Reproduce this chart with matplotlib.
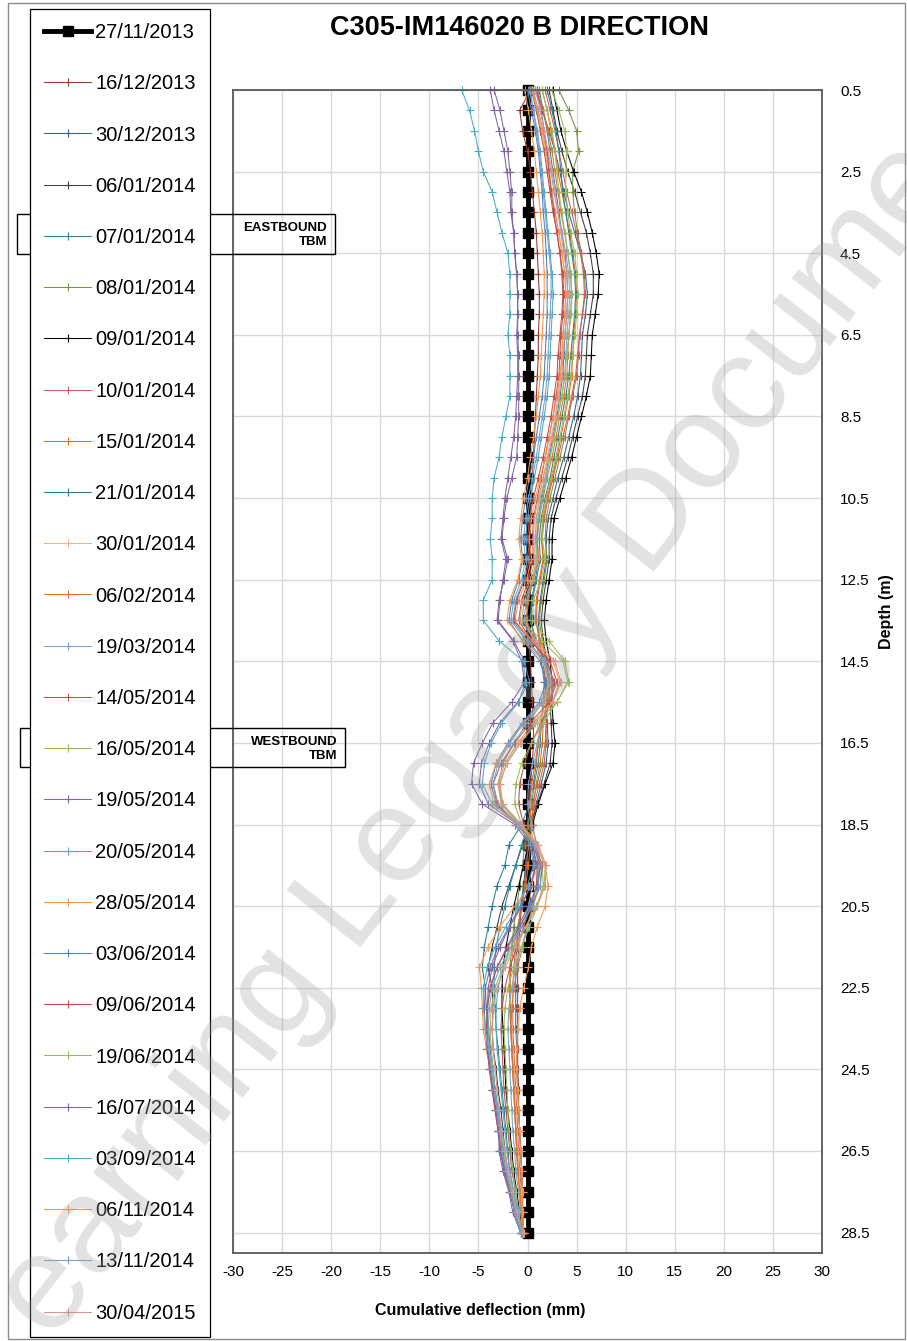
import matplotlib.pyplot as plt
import numpy as np
from matplotlib.patches import Rectangle

plt.rcParams['font.family'] = ['Liberation Sans', 'DejaVu Sans']
plt.rcParams['axes.unicode_minus'] = False

W, H = 907, 1341

# depth of each reading (m), every 0.5 m
depth = np.arange(0.5, 28.51, 0.5)

dates = ['27/11/2013', '16/12/2013', '30/12/2013', '06/01/2014', '07/01/2014',
         '08/01/2014', '09/01/2014', '10/01/2014', '15/01/2014', '21/01/2014',
         '30/01/2014', '06/02/2014', '19/03/2014', '14/05/2014', '16/05/2014',
         '19/05/2014', '20/05/2014', '28/05/2014', '03/06/2014', '09/06/2014',
         '19/06/2014', '16/07/2014', '03/09/2014', '06/11/2014', '13/11/2014',
         '30/04/2015']

colors = ['#000000', '#953735', '#376092', '#404040', '#31859C',
          '#77933C', '#000000', '#CD5C5C', '#E46C0A', '#2C7F95',
          '#FAB082', '#D9732A', '#7BA0D4', '#C0504D', '#9BBB59',
          '#8064A2', '#4BACC6', '#F79646', '#4F81BD', '#C0504D',
          '#9BBB59', '#8064A2', '#4BACC6', '#F79646', '#7F9DC4',
          '#D99694']

# cumulative deflection (mm)
d_271113 = [0.0] * 57
d_161213 = [0.3, -0.8, -0.5, 0.0, 0.3, 0.5, 0.7, 0.9, 1.0, 1.1,
            1.2, 1.2, 1.1, 1.1, 1.0, 0.9, 0.8, 0.7, 0.6, 0.5,
            0.4, 0.3, 0.2, 0.2, 0.1, 0.0, -0.1, 0.1, 0.3, 0.4,
            0.5, 0.6, 0.6, 0.5, 0.3, 0.1, 0.0, -0.1, -0.2, -0.3,
            -0.6, -0.8, -0.9, -1.0, -1.0, -1.0, -1.0, -1.0, -1.0, -0.9,
            -0.9, -0.8, -0.7, -0.6, -0.5, -0.5, -0.4]
d_301213 = [0.8, 1.5, 2.2, 2.8, 3.3, 3.7, 4.2, 4.8, 5.4, 5.9,
            6.1, 5.9, 5.6, 5.5, 5.4, 5.1, 4.7, 4.2, 3.7, 3.1,
            2.6, 2.1, 1.9, 1.9, 1.6, 1.3, 1.1, 1.2, 1.6, 1.8,
            1.9, 2.0, 2.1, 1.9, 1.4, 0.9, 0.4, 0.1, -0.2, -0.4,
            -0.7, -0.9, -1.1, -1.2, -1.2, -1.2, -1.2, -1.1, -1.1, -1.0,
            -0.9, -0.8, -0.7, -0.6, -0.5, -0.5, -0.4]
d_060114 = [2.2, 2.6, 3.0, 3.5, 4.1, 4.8, 5.4, 6.0, 6.4, 6.7,
            6.7, 6.4, 6.1, 6.0, 5.9, 5.6, 5.1, 4.6, 4.1, 3.5,
            2.9, 2.4, 2.2, 2.2, 1.9, 1.6, 1.4, 1.6, 2.0, 2.2,
            2.3, 2.4, 2.5, 2.3, 1.7, 1.0, 0.3, -0.5, -1.2, -1.9,
            -2.6, -3.1, -3.6, -4.0, -3.6, -3.5, -3.6, -3.5, -3.2, -3.0,
            -2.7, -2.5, -2.3, -2.0, -1.6, -1.2, -0.6]
d_070114 = [1.2, 1.6, 2.0, 2.3, 2.6, 2.9, 3.2, 3.5, 3.8, 4.0,
            4.1, 4.0, 3.8, 3.7, 3.6, 3.3, 3.0, 2.6, 2.2, 1.8,
            1.4, 1.1, 1.0, 1.1, 0.8, 0.4, 0.3, 0.8, 1.4, 1.7,
            1.6, 1.4, 1.3, 1.1, 0.7, 0.4, 0.1, -0.6, -1.2, -1.8,
            -2.3, -2.8, -3.2, -3.4, -3.4, -3.3, -3.2, -3.0, -2.8, -2.6,
            -2.4, -2.2, -2.0, -1.8, -1.4, -1.0, -0.5]
d_080114 = [3.2, 4.2, 5.0, 5.2, 4.6, 4.6, 4.8, 5.1, 5.5, 5.8,
            5.9, 5.6, 5.3, 5.2, 5.0, 4.6, 4.2, 3.8, 3.3, 2.8,
            2.3, 1.9, 1.8, 2.0, 1.7, 1.4, 1.2, 1.5, 1.9, 2.1,
            2.0, 1.9, 1.8, 1.5, 1.0, 0.5, 0.0, -0.3, -0.5, -0.8,
            -1.1, -1.4, -1.6, -1.8, -1.8, -1.8, -1.7, -1.6, -1.5, -1.4,
            -1.3, -1.2, -1.1, -0.9, -0.7, -0.6, -0.5]
d_090114 = [2.6, 3.0, 3.4, 4.0, 4.7, 5.5, 6.1, 6.6, 7.0, 7.3,
            7.2, 6.9, 6.6, 6.5, 6.4, 6.0, 5.5, 5.0, 4.5, 3.9,
            3.3, 2.7, 2.5, 2.5, 2.2, 1.9, 1.7, 1.9, 2.3, 2.5,
            2.5, 2.6, 2.8, 2.6, 1.8, 1.1, 0.5, 0.1, -0.4, -0.9,
            -1.4, -1.8, -2.2, -2.5, -2.6, -2.6, -2.5, -2.4, -2.3, -2.2,
            -2.0, -1.8, -1.6, -1.4, -1.1, -0.8, -0.5]
d_100114 = [1.8, 2.3, 2.8, 3.2, 3.6, 4.0, 4.5, 5.0, 5.4, 5.7,
            5.8, 5.6, 5.3, 5.1, 4.9, 4.5, 4.1, 3.6, 3.1, 2.6,
            2.1, 1.7, 1.5, 1.6, 1.3, 1.0, 0.9, 1.2, 1.6, 1.8,
            1.8, 1.9, 1.9, 1.7, 1.2, 0.7, 0.3, 0.1, -0.1, -0.3,
            -0.6, -0.9, -1.2, -1.4, -1.5, -1.5, -1.5, -1.4, -1.3, -1.2,
            -1.1, -1.0, -0.9, -0.8, -0.6, -0.5, -0.4]
d_150114 = [1.5, 2.0, 2.4, 2.8, 3.1, 3.5, 3.9, 4.3, 4.6, 4.9,
            5.0, 4.9, 4.7, 4.6, 4.5, 4.2, 3.8, 3.4, 3.0, 2.5,
            2.0, 1.6, 1.4, 1.6, 1.2, 0.9, 0.8, 1.3, 2.0, 2.3,
            2.0, 1.6, 1.5, 1.3, 0.9, 0.6, 0.4, 0.3, 0.1, -0.2,
            -0.6, -1.0, -1.4, -1.7, -1.8, -1.8, -1.7, -1.6, -1.5, -1.4,
            -1.3, -1.2, -1.1, -1.0, -0.8, -0.6, -0.5]
d_210114 = [2.0, 2.5, 2.9, 3.2, 3.4, 3.6, 3.9, 4.2, 4.5, 4.8,
            4.9, 4.8, 4.6, 4.4, 4.2, 3.9, 3.5, 3.1, 2.7, 2.3,
            1.8, 1.4, 1.2, 1.3, 0.9, 0.5, 0.3, 0.9, 1.7, 2.0,
            1.7, 1.3, 1.1, 0.9, 0.6, 0.2, -0.6, -1.9, -2.3, -3.1,
            -3.6, -4.0, -4.4, -4.6, -4.3, -4.2, -4.0, -3.8, -3.5, -3.3,
            -3.0, -2.7, -2.5, -2.2, -1.7, -1.3, -0.6]
d_300114 = [0.5, 1.0, 1.4, 1.8, 2.1, 2.4, 2.8, 3.2, 3.5, 3.8,
            3.9, 3.8, 3.6, 3.5, 3.4, 3.1, 2.8, 2.4, 2.0, 1.6,
            1.2, 0.9, 0.8, 0.9, 0.5, 0.0, -0.2, 0.6, 1.6, 2.1,
            1.8, 1.3, 1.0, 0.8, 0.5, 0.3, 0.4, 0.6, 0.7, 0.5,
            0.1, -0.4, -0.9, -1.3, -1.5, -1.6, -1.6, -1.5, -1.4, -1.3,
            -1.2, -1.1, -1.0, -0.9, -0.7, -0.6, -0.5]
d_060214 = [1.0, 1.6, 2.1, 2.5, 2.8, 3.1, 3.4, 3.8, 4.1, 4.4,
            4.5, 4.4, 4.2, 4.1, 4.0, 3.7, 3.3, 2.9, 2.5, 2.0,
            1.6, 1.2, 1.0, 1.1, 0.6, 0.1, -0.1, 0.8, 1.9, 2.4,
            2.1, 1.5, 1.1, 0.8, 0.4, 0.2, 0.5, 0.9, 1.1, 0.9,
            0.5, 0.0, -0.5, -1.0, -1.4, -1.6, -1.7, -1.6, -1.5, -1.4,
            -1.3, -1.2, -1.1, -1.0, -0.8, -0.6, -0.5]
d_190314 = [0.6, 1.1, 1.6, 2.0, 2.4, 2.7, 3.1, 3.5, 3.9, 4.2,
            4.3, 4.2, 4.0, 3.9, 3.8, 3.5, 3.1, 2.7, 2.3, 1.9,
            1.5, 1.1, 0.9, 1.0, 0.5, -0.1, -0.4, 0.7, 2.0, 2.6,
            2.3, 1.6, 1.0, 0.5, 0.1, 0.0, 0.4, 1.0, 1.3, 1.1,
            0.6, 0.0, -0.6, -1.2, -1.6, -1.9, -2.0, -1.9, -1.8, -1.7,
            -1.6, -1.5, -1.3, -1.2, -0.9, -0.7, -0.5]
d_140514 = [0.4, 0.9, 1.3, 1.7, 2.0, 2.3, 2.6, 3.0, 3.3, 3.6,
            3.7, 3.6, 3.4, 3.3, 3.2, 2.9, 2.6, 2.2, 1.8, 1.4,
            1.0, 0.6, 0.5, 0.6, 0.1, -0.6, -0.9, 0.4, 2.0, 2.7,
            2.4, 1.4, 0.4, -0.3, -0.8, -0.9, -0.4, 0.5, 1.0, 0.9,
            0.3, -0.4, -1.1, -1.8, -2.3, -2.6, -2.7, -2.6, -2.5, -2.4,
            -2.2, -2.0, -1.8, -1.6, -1.2, -0.9, -0.5]
d_160514 = [2.5, 3.2, 3.8, 4.0, 3.9, 3.9, 4.1, 4.4, 4.8, 5.0,
            5.1, 5.0, 4.8, 4.6, 4.4, 4.1, 3.7, 3.3, 2.9, 2.4,
            1.9, 1.5, 1.5, 1.8, 1.4, 0.6, 0.5, 2.2, 3.8, 4.2,
            3.0, 1.6, 0.4, -0.6, -1.2, -1.3, -0.6, 0.6, 1.5, 1.6,
            1.0, 0.2, -0.6, -1.4, -2.0, -2.3, -2.4, -2.3, -2.2, -2.1,
            -2.0, -1.9, -1.7, -1.5, -1.2, -0.9, -0.6]
d_190514 = [-3.4, -2.8, -2.4, -2.0, -1.8, -1.6, -1.6, -1.4, -1.3, -1.1,
            -1.0, -1.0, -1.0, -0.9, -0.9, -0.9, -0.9, -1.0, -1.1, -1.6,
            -2.1, -2.4, -2.6, -2.0, -2.4, -2.9, -3.1, -1.5, -0.6, -0.3,
            -1.6, -3.5, -4.6, -5.5, -5.7, -4.6, -1.3, 0.3, 0.8, 0.3,
            -0.6, -1.8, -2.8, -3.6, -4.0, -4.1, -4.0, -3.8, -3.5, -3.4,
            -3.1, -2.9, -2.9, -2.5, -1.9, -1.5, -0.7]
d_200514 = [0.2, 0.6, 1.0, 1.3, 1.5, 1.7, 1.9, 2.1, 2.3, 2.5,
            2.6, 2.5, 2.4, 2.3, 2.2, 2.0, 1.7, 1.4, 1.1, 0.7,
            0.3, 0.0, -0.2, 0.0, -0.4, -1.2, -1.5, 0.0, 1.8, 2.4,
            1.6, 0.0, -1.4, -2.5, -3.0, -2.6, -0.9, 0.6, 1.2, 1.0,
            0.2, -0.8, -1.7, -2.5, -3.0, -3.2, -3.2, -3.1, -2.9, -2.7,
            -2.5, -2.3, -2.1, -1.8, -1.4, -1.0, -0.6]
d_280514 = [0.5, 1.0, 1.5, 1.9, 2.2, 2.5, 2.8, 3.2, 3.5, 3.8,
            3.9, 3.8, 3.6, 3.5, 3.3, 3.0, 2.6, 2.2, 1.8, 1.3,
            0.8, 0.4, 0.2, 0.4, -0.1, -0.9, -1.3, 0.5, 2.6, 3.3,
            2.5, 0.6, -1.0, -2.3, -3.0, -2.7, -0.8, 0.9, 1.2, 0.2,
            -1.3, -2.8, -4.0, -4.9, -4.7, -4.6, -4.5, -4.2, -3.8, -3.5,
            -3.2, -2.9, -2.7, -2.3, -1.8, -1.3, -0.7]
d_030614 = [0.0, 0.4, 0.8, 1.1, 1.3, 1.5, 1.6, 1.8, 1.9, 2.0,
            2.0, 2.0, 1.9, 1.8, 1.7, 1.5, 1.2, 0.9, 0.6, 0.2,
            -0.2, -0.5, -0.7, -0.5, -0.9, -1.6, -1.9, -0.5, 1.3, 1.9,
            1.2, -0.5, -2.0, -3.2, -3.7, -3.2, -1.1, 0.6, 1.3, 1.0,
            0.1, -1.0, -2.1, -3.1, -3.8, -4.1, -4.1, -4.0, -3.8, -3.6,
            -3.3, -3.0, -2.7, -2.3, -1.8, -1.3, -0.7]
d_090614 = [1.0, 1.4, 1.7, 2.0, 2.2, 2.4, 2.7, 3.0, 3.3, 3.5,
            3.6, 3.5, 3.3, 3.1, 3.0, 2.7, 2.4, 2.0, 1.6, 1.1,
            0.6, 0.2, 0.0, 0.2, -0.3, -1.1, -1.4, 0.3, 2.3, 3.0,
            2.2, 0.3, -1.3, -2.7, -3.5, -3.1, -1.0, 0.8, 1.5, 1.3,
            0.4, -0.8, -2.0, -3.1, -3.8, -4.1, -4.2, -4.1, -3.9, -3.6,
            -3.3, -3.0, -2.7, -2.3, -1.8, -1.3, -0.6]
d_190614 = [1.5, 2.0, 2.5, 2.8, 3.0, 3.2, 3.5, 3.8, 4.1, 4.4,
            4.5, 4.4, 4.2, 4.0, 3.8, 3.5, 3.1, 2.7, 2.3, 1.8,
            1.3, 0.9, 0.8, 1.0, 0.5, -0.3, -0.6, 1.5, 3.6, 4.1,
            3.0, 1.0, -0.7, -2.1, -2.9, -2.6, -0.7, 1.0, 1.8, 1.7,
            0.9, -0.2, -1.4, -2.5, -3.3, -3.7, -3.8, -3.7, -3.5, -3.3,
            -3.0, -2.7, -2.4, -2.1, -1.6, -1.2, -0.6]
d_160714 = [-3.8, -3.4, -2.9, -2.4, -2.1, -1.8, -1.7, -1.4, -1.3, -1.1,
            -1.0, -1.0, -1.1, -1.0, -1.0, -1.1, -1.2, -1.4, -1.7, -2.0,
            -2.3, -2.5, -2.7, -2.2, -2.5, -2.8, -3.0, -1.4, -0.3, 0.2,
            -1.0, -2.8, -3.9, -4.7, -4.9, -4.0, -1.0, 0.5, 0.9, 0.3,
            -0.7, -1.9, -3.0, -3.8, -4.3, -4.4, -4.3, -4.1, -3.8, -3.5,
            -3.2, -3.0, -2.8, -2.4, -1.8, -1.3, -0.7]
d_030914 = [-6.7, -5.9, -5.4, -5.0, -4.5, -3.6, -3.1, -2.6, -2.0, -1.8,
            -1.8, -1.8, -2.0, -1.8, -1.8, -1.8, -2.2, -2.6, -2.9, -3.4,
            -3.6, -3.6, -3.8, -3.6, -3.6, -4.5, -4.5, -2.9, -0.4, -0.2,
            -0.9, -2.6, -3.7, -4.4, -4.6, -3.6, -0.8, 0.3, 0.6, 0.0,
            -1.0, -2.2, -3.3, -4.1, -4.5, -4.5, -4.3, -4.0, -3.6, -3.3,
            -3.0, -2.7, -2.6, -2.2, -1.7, -1.3, -0.7]
d_061114 = [-0.3, 0.1, 0.4, 0.7, 0.9, 1.1, 1.3, 1.5, 1.6, 1.7,
            1.7, 1.6, 1.5, 1.4, 1.3, 1.1, 0.9, 0.6, 0.3, 0.0,
            -0.4, -0.7, -0.9, -0.6, -1.0, -1.8, -2.1, -0.4, 1.6, 2.3,
            1.6, -0.3, -1.9, -3.2, -3.9, -3.4, -1.1, 0.8, 1.8, 2.1,
            1.8, 1.0, 0.4, 0.1, -0.4, -0.8, -1.0, -1.1, -1.1, -1.0,
            -0.9, -0.8, -0.7, -0.6, -0.5, -0.5, -0.4]
d_131114 = [0.3, 0.6, 0.9, 1.2, 1.4, 1.6, 1.8, 2.0, 2.2, 2.4,
            2.4, 2.3, 2.2, 2.1, 2.0, 1.8, 1.5, 1.2, 0.9, 0.5,
            0.1, -0.2, -0.4, -0.2, -0.6, -1.4, -1.7, -0.1, 1.7, 2.2,
            1.4, -0.4, -1.8, -3.0, -3.5, -3.0, -1.0, 0.7, 1.4, 1.3,
            0.5, -0.6, -1.7, -2.8, -3.6, -3.9, -4.0, -3.9, -3.7, -3.4,
            -3.1, -2.8, -2.6, -2.2, -1.7, -1.2, -0.6]
d_300415 = [0.8, 1.3, 1.7, 2.1, 2.5, 2.8, 3.1, 3.4, 3.7, 4.0,
            4.1, 4.0, 3.8, 3.6, 3.5, 3.2, 2.9, 2.5, 2.1, 1.6,
            1.1, 0.7, 0.6, 0.8, 0.3, -0.5, -0.8, 0.9, 2.8, 3.4,
            2.6, 0.8, -0.8, -2.1, -2.8, -2.5, -0.6, 1.1, 1.9, 1.8,
            1.0, -0.1, -1.2, -2.3, -3.1, -3.5, -3.6, -3.5, -3.3, -3.1,
            -2.9, -2.6, -2.3, -2.0, -1.5, -1.1, -0.5]

series = [d_271113, d_161213, d_301213, d_060114, d_070114, d_080114,
          d_090114, d_100114, d_150114, d_210114, d_300114, d_060214,
          d_190314, d_140514, d_160514, d_190514, d_200514, d_280514,
          d_030614, d_090614, d_190614, d_160714, d_030914, d_061114,
          d_131114, d_300415]


def fx(x):
    return x / W


def fy(y):
    return 1 - y / H


fig = plt.figure(figsize=(W / 100, H / 100), dpi=100)
ax = fig.add_axes([fx(233), fy(1253), (822 - 233) / W, (1253 - 90) / H])

# baseline reading drawn first, the rest on top
ax.plot(series[0], depth, color='black', lw=3.5, marker='s', ms=7,
        label=dates[0], clip_on=False)
for vals, lab, col in zip(series[1:], dates[1:], colors[1:]):
    ax.plot(vals, depth, color=col, lw=0.75, marker='+', ms=6, mew=0.8,
            label=lab, clip_on=False)

ax.set_xlim(-30, 30)
ax.set_ylim(29, 0.5)
ax.set_xticks(np.arange(-30, 31, 5))
ax.set_yticks(np.arange(0.5, 29, 2))
ax.yaxis.tick_right()
ax.tick_params(length=0, labelsize=11)
ax.tick_params(axis='x', pad=9)
ax.tick_params(axis='y', pad=13)
ax.grid(color='#D9D9D9', lw=1)
ax.set_axisbelow(True)
for sp in ax.spines.values():
    sp.set_color('#595959')
    sp.set_linewidth(1.3)

fig.text(fx(519), fy(28), 'C305-IM146020 B DIRECTION', ha='center',
         va='center', fontsize=19.5, fontweight='bold')
fig.text(fx(480), fy(1311), 'Cumulative deflection (mm)', ha='center',
         va='center', fontsize=11.5, fontweight='bold')
fig.text(fx(887), fy(612), 'Depth (m)', ha='center', va='center',
         rotation=90, fontsize=11.5, fontweight='bold')

handles, labels = ax.get_legend_handles_labels()
leg = fig.legend(handles, labels, loc='upper left',
                 bbox_to_anchor=(fx(30), fy(9)), borderaxespad=0,
                 fontsize=14.5, fancybox=False, edgecolor='black',
                 framealpha=1, labelspacing=1.6, handlelength=2.35,
                 handletextpad=0.2, borderpad=0.7)
leg.get_frame().set_linewidth(0.9)

# tunnel boring machine markers
fig.add_artist(Rectangle((fx(17), fy(254)), (335 - 17) / W, 40 / H,
                         transform=fig.transFigure, fill=False,
                         ec='black', lw=1, zorder=5))
fig.text(fx(327), fy(235), 'EASTBOUND\nTBM', ha='right', va='center',
         fontsize=9.5, fontweight='bold', linespacing=1.15)
fig.add_artist(Rectangle((fx(20), fy(767)), (345 - 20) / W, 39 / H,
                         transform=fig.transFigure, fill=False,
                         ec='black', lw=1, zorder=5))
fig.text(fx(337), fy(749), 'WESTBOUND\nTBM', ha='right', va='center',
         fontsize=9.5, fontweight='bold', linespacing=1.15)

# outer chart border
fig.add_artist(Rectangle((fx(8), fy(1339)), (905 - 8) / W, (1339 - 3) / H,
                         transform=fig.transFigure, fill=False,
                         ec='#8C8C8C', lw=1))

# watermark (runs off the page in the original too)
fig.text(fx(490), fy(725), 'Learning Legacy Document', ha='center',
         va='center', rotation=52, fontsize=98, color='#A0A0A0',
         alpha=0.3, zorder=10)

fig.savefig('out.png', dpi=100)
